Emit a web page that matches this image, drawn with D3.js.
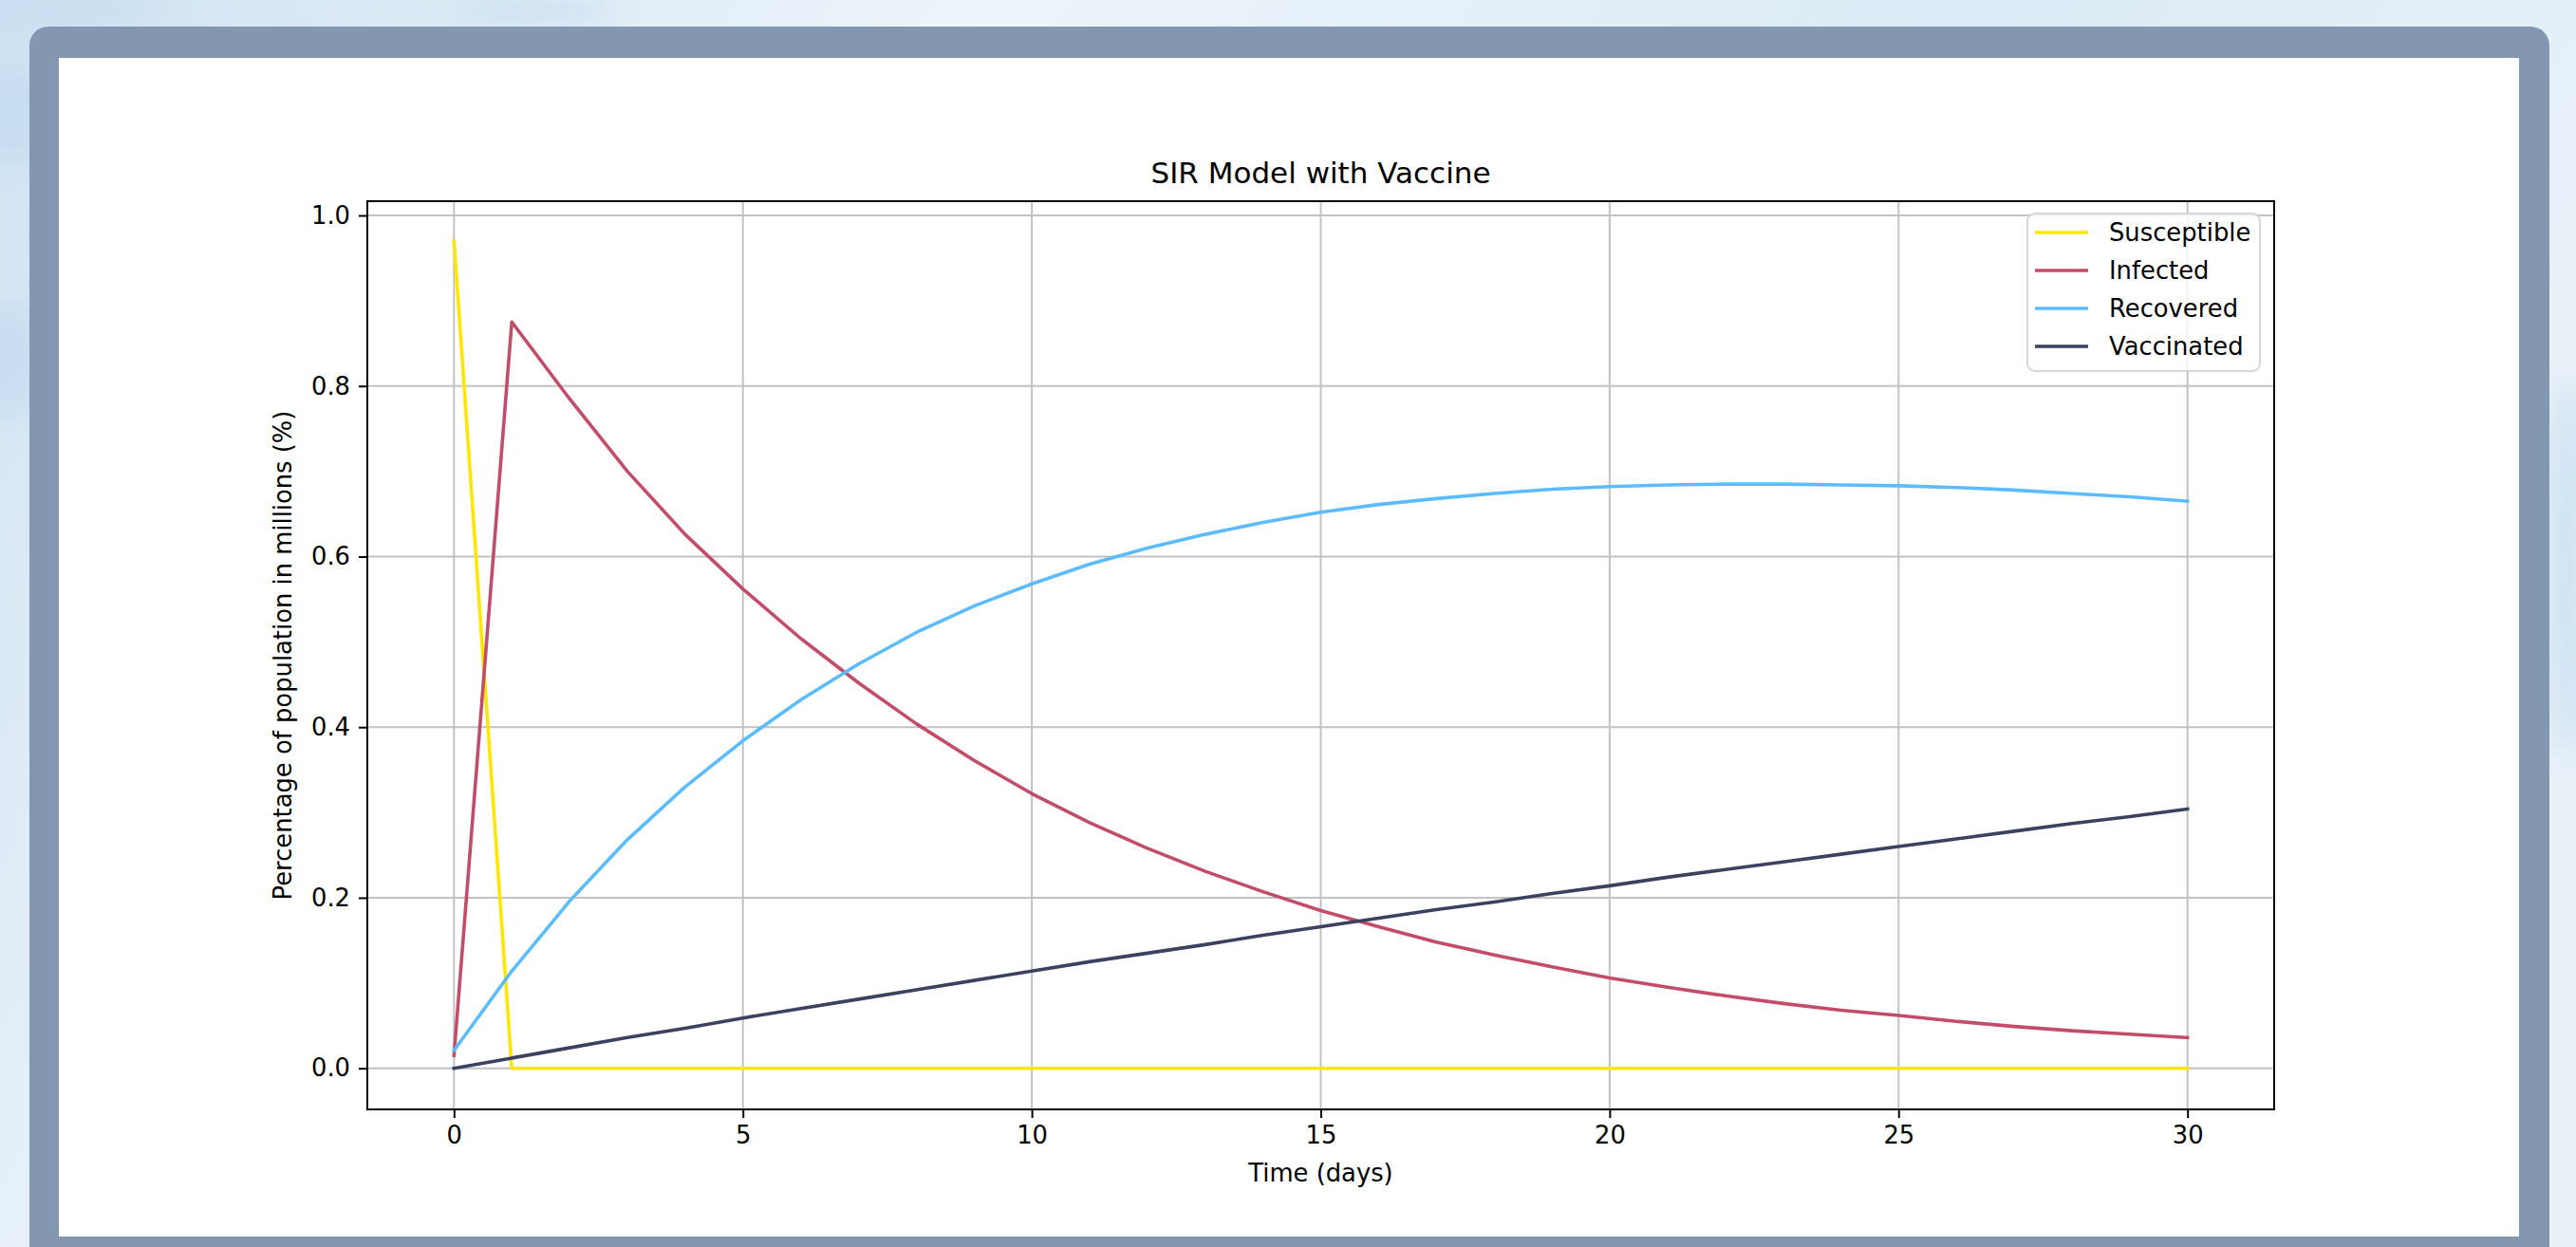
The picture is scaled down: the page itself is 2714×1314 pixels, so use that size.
<!DOCTYPE html>
<html>
<head>
<meta charset="utf-8">
<script src="https://cdn.jsdelivr.net/npm/d3@7"></script>
<style>
  html, body { margin: 0; padding: 0; background: #e6eff7; }
  svg { display: block; }
  text { font-family: "DejaVu Sans", sans-serif; fill: #000; }
</style>
</head>
<body>
<svg id="chart"></svg>
<script>
// time in days
const days = d3.range(0, 31);

const susceptible = [0.970, 0.000, 0.000, 0.000, 0.000, 0.000, 0.000, 0.000, 0.000, 0.000,
  0.000, 0.000, 0.000, 0.000, 0.000, 0.000, 0.000, 0.000, 0.000, 0.000,
  0.000, 0.000, 0.000, 0.000, 0.000, 0.000, 0.000, 0.000, 0.000, 0.000, 0.000];

const infected = [0.015, 0.875, 0.785, 0.700, 0.626, 0.562, 0.504, 0.452, 0.404, 0.361,
  0.322, 0.288, 0.258, 0.231, 0.207, 0.185, 0.166, 0.148, 0.133, 0.119,
  0.106, 0.095, 0.085, 0.076, 0.068, 0.062, 0.055, 0.049, 0.044, 0.040, 0.036];

const recovered = [0.021, 0.114, 0.196, 0.268, 0.330, 0.384, 0.432, 0.474, 0.511, 0.542,
  0.568, 0.591, 0.610, 0.626, 0.640, 0.652, 0.661, 0.668, 0.674, 0.679,
  0.682, 0.684, 0.685, 0.685, 0.684, 0.683, 0.681, 0.678, 0.674, 0.670, 0.665];

const vaccinated = [0.000, 0.012, 0.024, 0.036, 0.047, 0.059, 0.070, 0.081, 0.092, 0.103,
  0.114, 0.125, 0.135, 0.145, 0.156, 0.166, 0.176, 0.186, 0.195, 0.205,
  0.214, 0.224, 0.233, 0.242, 0.251, 0.260, 0.269, 0.278, 0.287, 0.295, 0.304];

const seriesNames = ["Susceptible", "Infected", "Recovered", "Vaccinated"];
const seriesColors = ["#ffe600", "#c24d6b", "#5cbcff", "#3d405e"];
const xTicks = [0, 5, 10, 15, 20, 25, 30];
const yTicks = [0.0, 0.2, 0.4, 0.6, 0.8, 1.0];

const W = 2714, H = 1314;
const svg = d3.select("#chart").attr("width", W).attr("height", H);

// page background + frame
const defs = svg.append("defs");
const bg = defs.append("linearGradient").attr("id", "bg").attr("x1", 0).attr("x2", 1).attr("y1", 0).attr("y2", 0.3);
bg.append("stop").attr("offset", "0%").attr("stop-color", "#cfe2f2");
bg.append("stop").attr("offset", "35%").attr("stop-color", "#edf4fa");
bg.append("stop").attr("offset", "70%").attr("stop-color", "#dcebf6");
bg.append("stop").attr("offset", "100%").attr("stop-color", "#e9f1f8");
defs.append("filter").attr("id", "blur").append("feGaussianBlur").attr("stdDeviation", 14);

svg.append("rect").attr("width", W).attr("height", H).attr("fill", "url(#bg)");
const patches = [[10, 120, 60, 50], [5, 380, 50, 60], [30, 10, 140, 14], [560, 12, 90, 12], [2705, 600, 20, 200]];
svg.append("g").attr("filter", "url(#blur)").selectAll("ellipse").data(patches).join("ellipse")
  .attr("cx", d => d[0]).attr("cy", d => d[1]).attr("rx", d => d[2]).attr("ry", d => d[3])
  .attr("fill", "#c3dbef").attr("opacity", 0.7);

svg.append("rect").attr("x", 31).attr("y", 28).attr("width", 2655).attr("height", 1320)
  .attr("rx", 20).attr("fill", "#8497b0");
svg.append("rect").attr("x", 62).attr("y", 61).attr("width", 2592).attr("height", 1242)
  .attr("fill", "#ffffff");

// axes area
const margin = {left: 387, right: 2396, top: 212, bottom: 1169};
const x = d3.scaleLinear().domain([-1.5, 31.5]).range([margin.left, margin.right]);
const y = d3.scaleLinear().domain([-0.0482, 1.0167]).range([margin.bottom, margin.top]);

const g = svg.append("g");

// grid
g.append("g").selectAll("line").data(xTicks).join("line")
  .attr("x1", d => x(d)).attr("x2", d => x(d)).attr("y1", margin.top).attr("y2", margin.bottom)
  .attr("stroke", "#c2c2c2").attr("stroke-width", 2);
g.append("g").selectAll("line").data(yTicks).join("line")
  .attr("x1", margin.left).attr("x2", margin.right).attr("y1", d => y(d)).attr("y2", d => y(d))
  .attr("stroke", "#c2c2c2").attr("stroke-width", 2);

// lines
const allSeries = [susceptible, infected, recovered, vaccinated];
const line = d3.line()
  .x((d, i) => x(days[i]))
  .y(d => y(d));

allSeries.forEach((values, k) => {
  g.append("path")
    .datum(values)
    .attr("fill", "none")
    .attr("stroke", seriesColors[k])
    .attr("stroke-width", 3.6)
    .attr("stroke-linejoin", "round")
    .attr("stroke-linecap", "square")
    .attr("d", line);
});

// axes
const xAxis = g.append("g")
  .attr("transform", "translate(0," + margin.bottom + ")")
  .call(d3.axisBottom(x).tickValues(xTicks).tickSize(9).tickPadding(9).tickFormat(d3.format("d")));
const yAxis = g.append("g")
  .attr("transform", "translate(" + margin.left + ",0)")
  .call(d3.axisLeft(y).tickValues(yTicks).tickSize(9).tickPadding(9).tickFormat(d3.format(".1f")));
[xAxis, yAxis].forEach(a => {
  a.select(".domain").remove();
  a.selectAll(".tick line").attr("stroke", "#000").attr("stroke-width", 2);
  a.selectAll(".tick text").attr("font-size", 25.8).attr("font-family", "DejaVu Sans").attr("fill", "#111");
});

// spines
g.append("rect")
  .attr("x", margin.left).attr("y", margin.top)
  .attr("width", margin.right - margin.left).attr("height", margin.bottom - margin.top)
  .attr("fill", "none").attr("stroke", "#000").attr("stroke-width", 2);

// texts
const midX = (margin.left + margin.right) / 2;
svg.append("text")
  .attr("x", midX).attr("y", 193)
  .attr("text-anchor", "middle").attr("font-size", 31)
  .text("SIR Model with Vaccine");
svg.append("text")
  .attr("x", midX).attr("y", 1245)
  .attr("text-anchor", "middle").attr("font-size", 25.8)
  .text("Time (days)");
svg.append("text")
  .attr("transform", "translate(307," + (margin.top + margin.bottom) / 2 + ") rotate(-90)")
  .attr("text-anchor", "middle").attr("font-size", 25.8)
  .text("Percentage of population in millions (%)");

// legend
const legend = svg.append("g").attr("transform", "translate(2136,225)");
legend.append("rect")
  .attr("width", 245).attr("height", 166).attr("rx", 8)
  .attr("fill", "#ffffff").attr("fill-opacity", 0.8)
  .attr("stroke", "#cccccc").attr("stroke-opacity", 0.8).attr("stroke-width", 2);
seriesNames.forEach((name, k) => {
  const ly = 20 + k * 40;
  legend.append("line")
    .attr("x1", 8).attr("x2", 64).attr("y1", ly).attr("y2", ly)
    .attr("stroke", seriesColors[k]).attr("stroke-width", 3.6);
  legend.append("text")
    .attr("x", 86).attr("y", ly + 9.4)
    .attr("font-size", 25.8)
    .text(name);
});
</script>
</body>
</html>
